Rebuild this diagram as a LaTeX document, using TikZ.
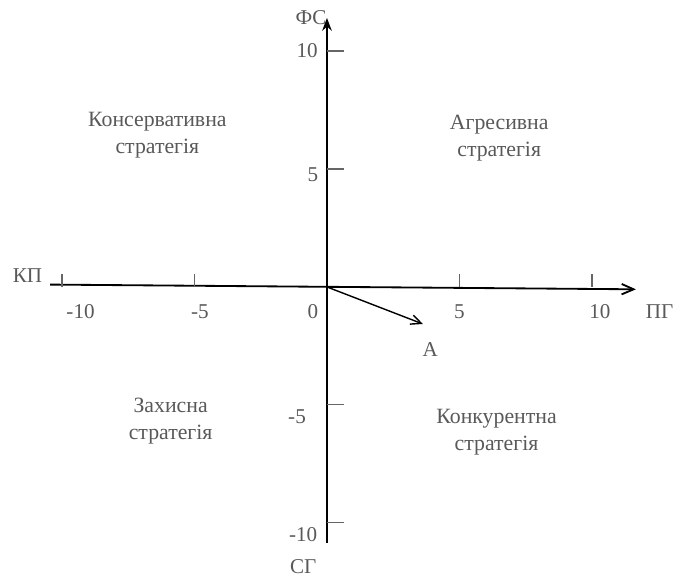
\documentclass[tikz,border=0pt]{standalone}
\usepackage{fontspec}
\setmainfont{Liberation Serif}
\usepackage{tikz}
\usetikzlibrary{arrows.meta,positioning}

\tikzset{
axis/.style={line width=1.3pt,black},
tick/.style={line width=0.8pt,black!60},
num/.style={text=black!65,font=\fontsize{15}{18}\selectfont,inner sep=1pt},
quad/.style={text=black!65,font=\fontsize{15.5}{19}\selectfont,align=center}
}

\begin{document}
\begin{tikzpicture}[x=0.6625cm,y=0.59cm]

\useasboundingbox (-12.34,-12.37) rectangle (13.21,12.16);

\coordinate (O) at (0,0);
\coordinate (xL) at (-10.45,0.1);
\coordinate (xR) at (11.66,-0.1);
\coordinate (yT) at (0,11.4);
\coordinate (yB) at (0,-10.85);
\coordinate (A) at (3.62,-1.57);

% axes
\draw[axis,-{Straight Barb[length=3mm,width=2.6mm]}] (xL) -- (xR);
\draw[axis,-{Stealth[length=3.2mm,width=2.4mm]}] (yB) -- (yT);

% ticks
\foreach \t in {-10,-5,5,10}
{
\draw[tick] (\t,0) -- (\t,0.55);
\draw[tick] (0,\t) -- (0.64,\t);
}

% vector A
\draw[line width=1pt,-{Straight Barb[length=2.6mm,width=2.4mm]}] (O) -- (A);
\node[num] (lblA) at (3.9,-2.67) {А};

% axis names
\node[num] (kp) at (-11.3,0.47) {КП};
\node[num] (pg) at (12.55,-1.06) {ПГ};
\node[num] (fs) at (-0.6,11.4) {ФС};
\node[num] (sg) at (-0.9,-11.86) {СГ};

% numbers
\node[num] (xm10) at (-9.3,-1.06) {-10};
\node[num] (xm5) at (-4.8,-1.06) {-5};
\node[num] (x0) at (-0.53,-1.06) {0};
\node[num] (x5) at (5.0,-1.06) {5};
\node[num] (x10) at (10.3,-1.06) {10};
\node[num] (y10) at (-0.75,10) {10};
\node[num] (y5) at (-0.53,4.75) {5};
\node[num] (ym5) at (-1.13,-5.5) {-5};
\node[num] (ym10) at (-0.9,-10.5) {-10};

% strategies
\node[quad] (kons) at (-6.4,6.44) {Консервативна\\стратегія};
\node[quad] (agr) at (6.5,6.3) {Агресивна\\стратегія};
\node[quad] (zah) at (-5.9,-5.68) {Захисна\\стратегія};
\node[quad] (konk) at (6.4,-6.14) {Конкурентна\\стратегія};

\end{tikzpicture}
\end{document}
